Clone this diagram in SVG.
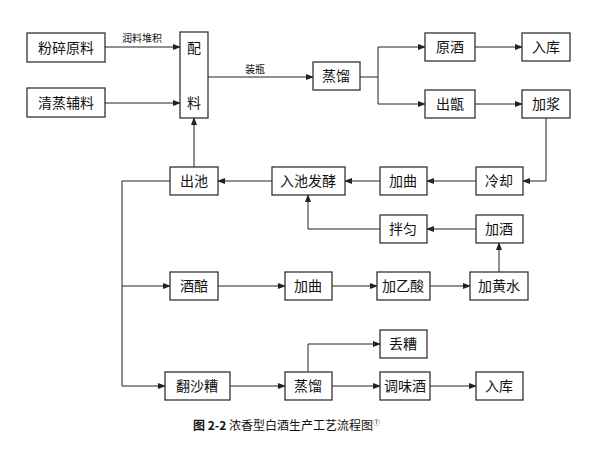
<svg xmlns="http://www.w3.org/2000/svg" width="607" height="453" viewBox="0 0 607 453">
<style>
.b{fill:#fff;stroke:#333;stroke-width:1.3}
.t{font-family:"Noto Sans CJK SC","Liberation Sans",sans-serif;font-size:14px;text-anchor:middle;fill:#111}
.s{font-size:10px}
.c path{fill:none;stroke:#222;stroke-width:1}
</style>
<defs><marker id="a" markerWidth="8" markerHeight="6" refX="7" refY="3" orient="auto" markerUnits="userSpaceOnUse"><path d="M0,0L8,3L0,6z" fill="#222"/></marker></defs>
<rect width="607" height="453" fill="#fff"/>
<g class="c" marker-end="url(#a)">
<path d="M105,47H180"/>
<path d="M105,103H180"/>
<path d="M208,77H313"/>
<path d="M360,77H378V47H425"/>
<path d="M378,77V104H425"/>
<path d="M475,47H522"/>
<path d="M475,104H522"/>
<path d="M546,118V181H523"/>
<path d="M476,181H427"/>
<path d="M380,181H345"/>
<path d="M272,181H218"/>
<path d="M194,167V118"/>
<path d="M476,229H427"/>
<path d="M380,229H308V195"/>
<path d="M170,181H122V386H165"/>
<path d="M122,286H170"/>
<path d="M218,286H285"/>
<path d="M332,286H377"/>
<path d="M430,286H470"/>
<path d="M499,272V243"/>
<path d="M230,386H285"/>
<path d="M332,386H380"/>
<path d="M430,386H476"/>
<path d="M308,372V344H380"/>
</g>
<text class="t s" x="142" y="42">润料堆积</text>
<text class="t s" x="255" y="73">装瓶</text>
<g id="n1"><rect class="b" x="27" y="33" width="78" height="29"/><text class="t" x="66" y="53">粉碎原料</text></g>
<g id="n2"><rect class="b" x="27" y="88" width="78" height="29"/><text class="t" x="66" y="108">清蒸辅料</text></g>
<g id="n3"><rect class="b" x="180" y="32" width="28" height="86"/><text class="t" x="194" y="53">配</text><text class="t" x="194" y="108">料</text></g>
<g id="n4"><rect class="b" x="313" y="62" width="47" height="28"/><text class="t" x="336" y="81">蒸馏</text></g>
<g id="n5"><rect class="b" x="425" y="33" width="50" height="28"/><text class="t" x="450" y="52">原酒</text></g>
<g id="n6"><rect class="b" x="522" y="33" width="48" height="28"/><text class="t" x="546" y="52">入库</text></g>
<g id="n7"><rect class="b" x="425" y="90" width="50" height="28"/><text class="t" x="450" y="109">出甑</text></g>
<g id="n8"><rect class="b" x="522" y="90" width="48" height="28"/><text class="t" x="546" y="109">加浆</text></g>
<g id="n9"><rect class="b" x="476" y="167" width="47" height="28"/><text class="t" x="499" y="186">冷却</text></g>
<g id="n10"><rect class="b" x="380" y="167" width="47" height="28"/><text class="t" x="403" y="186">加曲</text></g>
<g id="n11"><rect class="b" x="272" y="167" width="73" height="28"/><text class="t" x="308" y="186">入池发酵</text></g>
<g id="n12"><rect class="b" x="170" y="167" width="48" height="28"/><text class="t" x="194" y="186">出池</text></g>
<g id="n13"><rect class="b" x="476" y="215" width="47" height="28"/><text class="t" x="499" y="234">加酒</text></g>
<g id="n14"><rect class="b" x="380" y="215" width="47" height="28"/><text class="t" x="403" y="234">拌匀</text></g>
<g id="n15"><rect class="b" x="170" y="272" width="48" height="28"/><text class="t" x="194" y="291">酒醅</text></g>
<g id="n16"><rect class="b" x="285" y="272" width="47" height="28"/><text class="t" x="308" y="291">加曲</text></g>
<g id="n17"><rect class="b" x="377" y="272" width="53" height="28"/><text class="t" x="403" y="291">加乙酸</text></g>
<g id="n18"><rect class="b" x="470" y="272" width="58" height="28"/><text class="t" x="499" y="291">加黄水</text></g>
<g id="n19"><rect class="b" x="380" y="330" width="47" height="28"/><text class="t" x="403" y="349">丢糟</text></g>
<g id="n20"><rect class="b" x="165" y="372" width="65" height="28"/><text class="t" x="197" y="391">翻沙糟</text></g>
<g id="n21"><rect class="b" x="285" y="372" width="47" height="28"/><text class="t" x="308" y="391">蒸馏</text></g>
<g id="n22"><rect class="b" x="380" y="372" width="50" height="28"/><text class="t" x="405" y="391">调味酒</text></g>
<g id="n23"><rect class="b" x="476" y="372" width="47" height="28"/><text class="t" x="499" y="391">入库</text></g>
<text x="193" y="430" style="font-family:'Noto Sans CJK SC','Liberation Sans',sans-serif;font-size:12px;fill:#111"><tspan font-weight="bold">图 2-2</tspan> 浓香型白酒生产工艺流程图<tspan font-size="7" dy="-5">①</tspan></text>
</svg>
